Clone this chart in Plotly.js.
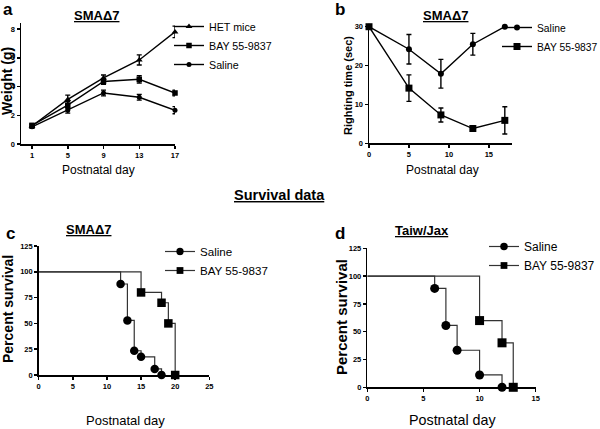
<!DOCTYPE html>
<html>
<head>
<meta charset="utf-8">
<script src="https://cdn.plot.ly/plotly-3.0.1.min.js"></script>
<style>html,body{margin:0;padding:0;background:#fff;}#chart{width:600px;height:429px;}</style>
</head>
<body>
<div id="chart"></div>
<script>
// ---- Panel a: body weight ----
const daysA = [1, 5, 9, 13, 17];
const hetWeight = [1.25, 3.1, 4.6, 5.85, 7.8];
const hetErr = [0.12, 0.3, 0.2, 0.35, 0.4];
const bayWeight = [1.3, 2.7, 4.35, 4.5, 3.55];
const bayErr = [0.1, 0.25, 0.2, 0.25, 0.2];
const salWeight = [1.2, 2.35, 3.55, 3.25, 2.35];
const salErr = [0.1, 0.2, 0.2, 0.2, 0.25];

// ---- Panel b: righting time ----
const daysB = [0, 5, 9, 13, 17];
const salRight = [30, 24.2, 17.9, 25.5, 30];
const salRightErr = [0, 3.8, 3.7, 2.8, 0];
const bayRight = [30, 14.2, 7.3, 3.8, 5.9];
const bayRightErr = [0, 3.4, 1.8, 0.7, 3.5];

// ---- Panel c: survival SMAΔ7 ----
const salDaysC = [0, 12, 13, 14, 15, 17, 18];
const salSurvC = [100, 88.2, 52.9, 23.5, 17.6, 5.9, 0];
const bayDaysC = [0, 15, 18, 19, 20];
const baySurvC = [100, 80, 70, 50, 0];

// ---- Panel d: survival Taiw/Jax ----
const salDaysD = [0, 6, 7, 8, 10, 12];
const salSurvD = [100, 88.9, 55.6, 33.3, 11.1, 0];
const bayDaysD = [0, 10, 12, 13];
const baySurvD = [100, 60, 40, 0];

// ---- Labels ----
const seriesNames = {het: 'HET mice', bay: 'BAY 55-9837', sal: 'Saline'};
const panelTitles = ['SMAΔ7', 'SMAΔ7', 'SMAΔ7', 'Taiw/Jax'];
const panelLetters = ['a', 'b', 'c', 'd'];
const xTitle = 'Postnatal day';
const yTitles = ['Weight (g)', 'Righting time (sec)', 'Percent survival', 'Percent survival'];
const sectionTitle = 'Survival data';

const SANS = '"Liberation Sans", Arial, sans-serif';

function markerSizes(n, s) { return Array.from({length: n}, (_, i) => i === 0 ? 0 : s); }

const errStyle = (arr) => ({type: 'data', array: arr, visible: true, color: '#000', thickness: 1.4, width: 2.5});

const traces = [
  // a
  {x: daysA, y: hetWeight, error_y: errStyle(hetErr), name: seriesNames.het, mode: 'lines+markers', xaxis: 'x', yaxis: 'y', legend: 'legend',
   line: {color: '#000', width: 1.4}, marker: {symbol: 'triangle-up', size: 6, color: '#000'}, cliponaxis: false},
  {x: daysA, y: bayWeight, error_y: errStyle(bayErr), name: seriesNames.bay, mode: 'lines+markers', xaxis: 'x', yaxis: 'y', legend: 'legend',
   line: {color: '#000', width: 1.4}, marker: {symbol: 'square', size: 5.5, color: '#000'}, cliponaxis: false},
  {x: daysA, y: salWeight, error_y: errStyle(salErr), name: seriesNames.sal, mode: 'lines+markers', xaxis: 'x', yaxis: 'y', legend: 'legend',
   line: {color: '#000', width: 1.4}, marker: {symbol: 'circle', size: 5, color: '#000'}, cliponaxis: false},
  // b
  {x: daysB, y: salRight, error_y: errStyle(salRightErr), name: seriesNames.sal, mode: 'lines+markers', xaxis: 'x2', yaxis: 'y2', legend: 'legend2',
   line: {color: '#000', width: 1.4}, marker: {symbol: 'circle', size: 6, color: '#000'}, cliponaxis: false},
  {x: daysB, y: bayRight, error_y: errStyle(bayRightErr), name: seriesNames.bay, mode: 'lines+markers', xaxis: 'x2', yaxis: 'y2', legend: 'legend2',
   line: {color: '#000', width: 1.4}, marker: {symbol: 'square', size: 7, color: '#000'}, cliponaxis: false},
  // c
  {x: salDaysC, y: salSurvC, name: seriesNames.sal, mode: 'lines+markers', xaxis: 'x3', yaxis: 'y3', legend: 'legend3',
   line: {color: '#333', width: 1.2, shape: 'hv'}, marker: {symbol: 'circle', size: markerSizes(salDaysC.length, 8.5), color: '#000', opacity: 1, line: {width: 0}}, cliponaxis: false},
  {x: bayDaysC, y: baySurvC, name: seriesNames.bay, mode: 'lines+markers', xaxis: 'x3', yaxis: 'y3', legend: 'legend3',
   line: {color: '#333', width: 1.2, shape: 'hv'}, marker: {symbol: 'square', size: markerSizes(bayDaysC.length, 8.5), color: '#000', opacity: 1, line: {width: 0}}, cliponaxis: false},
  // d
  {x: salDaysD, y: salSurvD, name: seriesNames.sal, mode: 'lines+markers', xaxis: 'x4', yaxis: 'y4', legend: 'legend4',
   line: {color: '#333', width: 1.2, shape: 'hv'}, marker: {symbol: 'circle', size: markerSizes(salDaysD.length, 9), color: '#000', opacity: 1, line: {width: 0}}, cliponaxis: false},
  {x: bayDaysD, y: baySurvD, name: seriesNames.bay, mode: 'lines+markers', xaxis: 'x4', yaxis: 'y4', legend: 'legend4',
   line: {color: '#333', width: 1.2, shape: 'hv'}, marker: {symbol: 'square', size: markerSizes(bayDaysD.length, 9), color: '#000', opacity: 1, line: {width: 0}}, cliponaxis: false}
];

function ax(extra) {
  return Object.assign({
    showline: true, linecolor: '#000', linewidth: 1.5, ticks: 'outside', ticklen: 3, tickwidth: 1.5, tickcolor: '#000',
    showgrid: false, zeroline: false, fixedrange: true, automargin: false,
    tickfont: {family: SANS, size: 7.5, color: '#000', weight: 'bold'}
  }, extra);
}

function legendCfg(x, y, size) {
  return {xref: 'container', yref: 'container', x: x, y: y, xanchor: 'left', yanchor: 'top', bgcolor: 'rgba(0,0,0,0)', borderwidth: 0,
    font: {family: SANS, size: size, color: '#000'}, tracegroupgap: 0, itemwidth: 30};
}

const ann = [];
const textAnn = (x, y, text, font, extra) => ann.push(Object.assign({xref: 'paper', yref: 'paper', x: x, y: y, text: text, showarrow: false, font: font, xanchor: 'center', yanchor: 'middle'}, extra || {}));
const py = (p) => 1 - p / 429;
const px = (p) => p / 600;

// panel titles
const titlePos = [[97, 15], [445, 15], [88, 229], [422, 230]];
titlePos.forEach((p, i) => textAnn(px(p[0]), py(p[1]), '<b><u>' + panelTitles[i] + '</u></b>', {family: SANS, size: 13, color: '#000'}));
// panel letters
const letterPos = [[8, 10], [340, 10], [10, 233], [340, 233]];
letterPos.forEach((p, i) => textAnn(px(p[0]), py(p[1]), '<b>' + panelLetters[i] + '</b>', {family: SANS, size: 17, color: '#000'}));
// x titles
const xTitlePos = [[98, 170, 12], [442, 170, 12], [125, 420, 13], [452, 420, 14.3]];
xTitlePos.forEach(p => textAnn(px(p[0]), py(p[1]), xTitle, {family: SANS, size: p[2], color: '#000'}));
// y titles
const yTitlePos = [[7, 81, 14], [348, 86, 11], [8, 309, 14], [341, 317, 15]];
yTitlePos.forEach((p, i) => textAnn(px(p[0]), py(p[1]), '<b>' + yTitles[i] + '</b>', {family: SANS, size: p[2], color: '#000'}, {textangle: -90}));
// section title
textAnn(px(279), py(195), '<b><u>' + sectionTitle + '</u></b>', {family: SANS, size: 14.5, color: '#000'});

const layout = {
  width: 600, height: 429, margin: {l: 0, r: 0, t: 0, b: 0, autoexpand: false}, paper_bgcolor: '#fff', plot_bgcolor: 'rgba(0,0,0,0)',
  showlegend: true,
  xaxis: ax({domain: [px(21), px(175)], range: [-0.23, 17], tickvals: daysA, anchor: 'y'}),
  yaxis: ax({domain: [py(144), py(23)], range: [0, 8.42], dtick: 2, anchor: 'x'}),
  xaxis2: ax({domain: [px(369), px(512)], range: [0, 17.9], dtick: 5, anchor: 'y2'}),
  yaxis2: ax({domain: [py(143.3), py(24)], range: [0, 30.7], dtick: 10, anchor: 'x2'}),
  xaxis3: ax({domain: [px(38.7), px(209.3)], range: [0, 25], dtick: 5, anchor: 'y3'}),
  yaxis3: ax({domain: [py(375), py(246)], range: [0, 125], dtick: 25, anchor: 'x3'}),
  xaxis4: ax({domain: [px(367.3), px(535.7)], range: [0, 15], dtick: 5, anchor: 'y4'}),
  yaxis4: ax({domain: [py(387.3), py(248.3)], range: [0, 125], dtick: 25, anchor: 'x4'}),
  legend: legendCfg(px(169), py(12), 10.7),
  legend2: legendCfg(px(497), py(13), 10.3),
  legend3: legendCfg(px(160), py(237), 11.6),
  legend4: legendCfg(px(484), py(232), 12),
  annotations: ann
};

Plotly.newPlot('chart', traces, layout, {staticPlot: true, displayModeBar: false});
</script>
</body>
</html>
